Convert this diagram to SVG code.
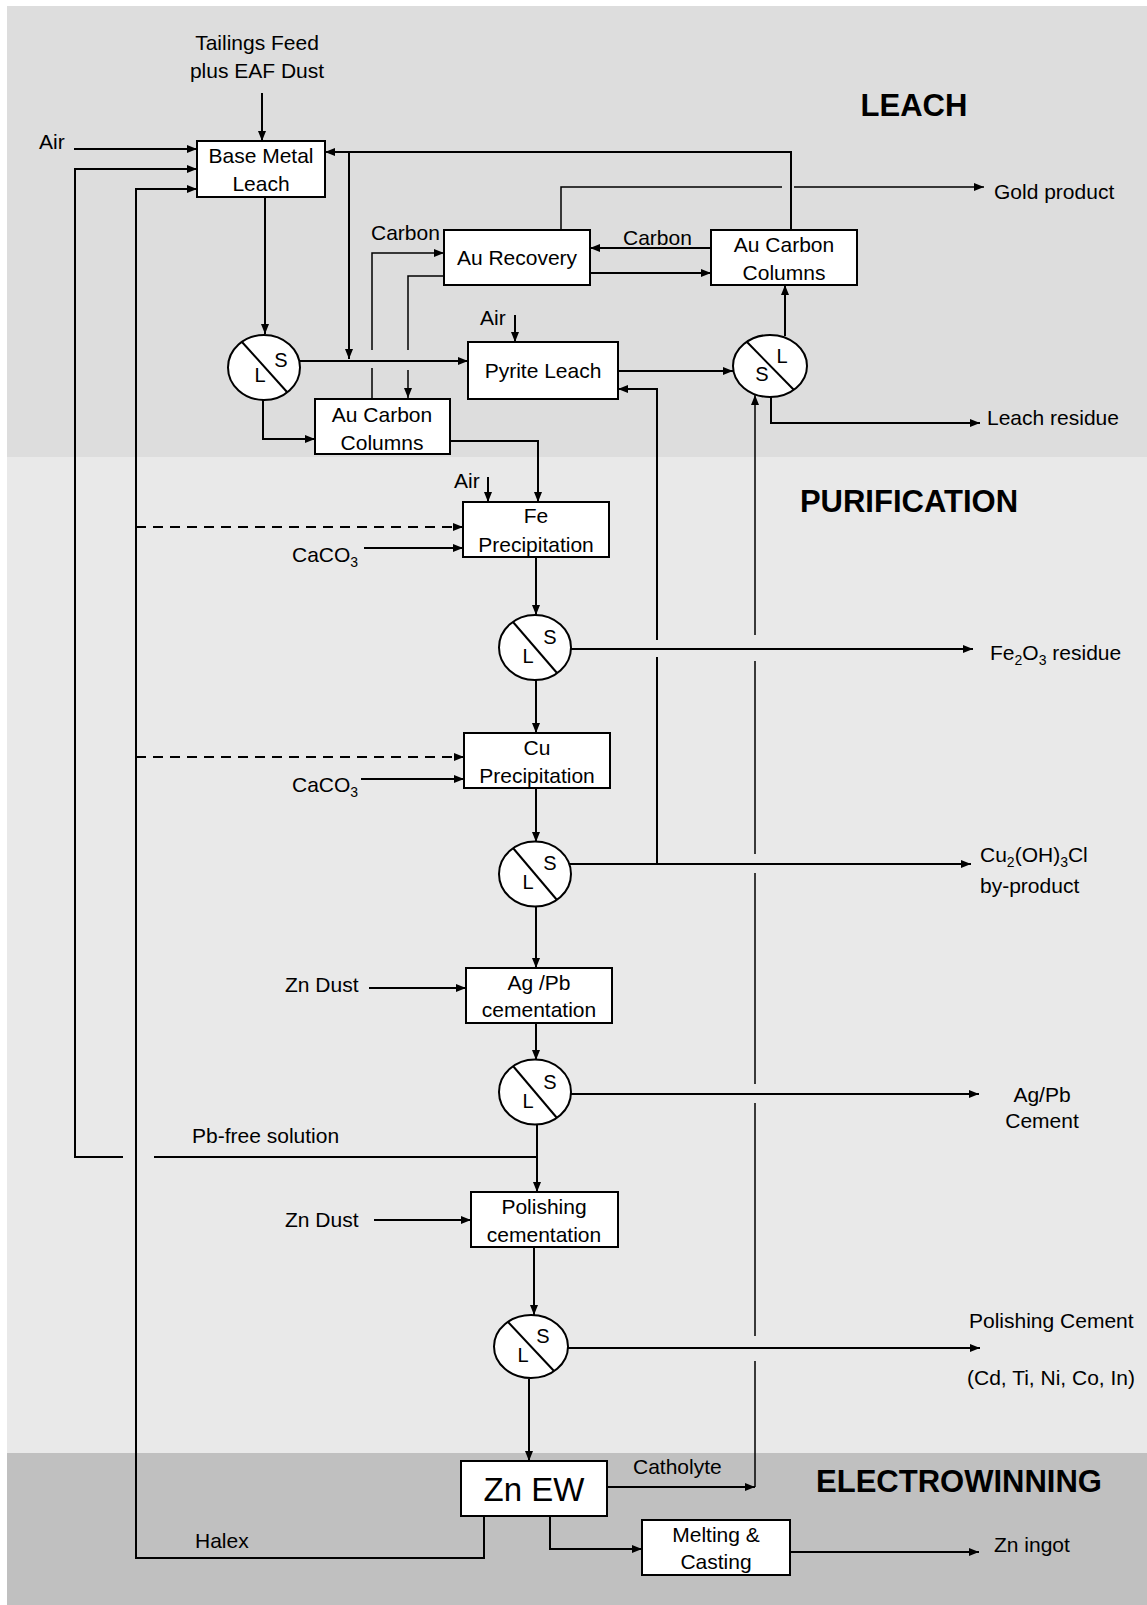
<svg xmlns="http://www.w3.org/2000/svg" width="1147" height="1605" viewBox="0 0 1147 1605">
<defs>
<marker id="ah" markerWidth="10" markerHeight="8" refX="10" refY="4" orient="auto" markerUnits="userSpaceOnUse"><path d="M0,0 L10,4 L0,8 z" fill="#000"/></marker>
<style>
.t{font-family:"Liberation Sans",Arial,sans-serif;font-size:21px;fill:#000}
.m{text-anchor:middle}
.big{font-size:33px}
.sub{font-size:14px}
.h{font-family:"Liberation Sans",Arial,sans-serif;font-size:31px;font-weight:bold;text-anchor:middle;fill:#000}
.sl{font-family:"Liberation Sans",Arial,sans-serif;font-size:20px;text-anchor:middle;fill:#000}
.box{fill:#fff;stroke:#000;stroke-width:2}
.sep{fill:#fff;stroke:#000;stroke-width:2}
.dg{stroke:#000;stroke-width:2}
.c{fill:none;stroke:#000;stroke-width:2}
.a{marker-end:url(#ah)}
.thin{stroke-width:1.5}
.d{stroke-dasharray:10 7}
</style>
</defs>
<rect x="0" y="0" width="1147" height="1605" fill="#fff"/>
<g id="bands">
<rect x="7" y="6" width="1140" height="451" fill="#dddddd"/>
<rect x="7" y="457" width="1140" height="996" fill="#e9e9e9"/>
<rect x="7" y="1453" width="1140" height="152" fill="#c0c0c0"/>
<text class="h" x="914" y="116">LEACH</text>
<text class="h" x="909" y="512">PURIFICATION</text>
<text class="h" x="959" y="1492">ELECTROWINNING</text>
</g>
<g id="connectors">
<path class="c a" d="M262,93 V141"/>
<path class="c a" d="M74,149 H197"/>
<path class="c a" d="M537,1157 H154 M123,1157 H75 V169 H197"/>
<path class="c a" d="M484,1516 V1558 H136 V189 H197"/>
<path class="c a" d="M791,230 V152 H325"/>
<path class="c a" d="M349,152 V359"/>
<path class="c a" d="M265,197 V334"/>
<path class="c a" d="M300,361 H468"/>
<path class="c a" d="M263,400 V439 H315"/>
<path class="c thin a" d="M372,399 V368 M372,350 V253 H444"/>
<path class="c thin a" d="M444,276 H408 V350 M408,370 V398"/>
<path class="c thin a" d="M561,230 V187 H782 M794,187 H984"/>
<path class="c a" d="M711,248 H590"/>
<path class="c a" d="M590,273 H711"/>
<path class="c a" d="M515,315 V342"/>
<path class="c a" d="M618,371 H733"/>
<path class="c a" d="M785,336 V285"/>
<path class="c a" d="M771,397 V423 H980"/>
<path class="c a" d="M657,864 V657 M657,640 V389 H618"/>
<path class="c a" d="M607,1487 H755"/>
<path class="c thin a" d="M755,1487 V1361 M755,1336 V1103 M755,1084 V873 M755,854 V661 M755,635 V395"/>
<path class="c a" d="M450,441 H538 V502"/>
<path class="c a" d="M488,477 V502"/>
<path class="c d a" d="M136,527 H463"/>
<path class="c a" d="M364,548 H463"/>
<path class="c a" d="M536,557 V615"/>
<path class="c a" d="M571,649 H973"/>
<path class="c a" d="M536,680 V733"/>
<path class="c d a" d="M136,757 H464"/>
<path class="c a" d="M361,779 H464"/>
<path class="c a" d="M536,788 V842"/>
<path class="c a" d="M569,864 H971"/>
<path class="c a" d="M536,906 V968"/>
<path class="c a" d="M369,988 H466"/>
<path class="c a" d="M536,1023 V1060"/>
<path class="c a" d="M571,1094 H979"/>
<path class="c a" d="M537,1124 V1192"/>
<path class="c a" d="M374,1220 H471"/>
<path class="c a" d="M534,1247 V1315"/>
<path class="c a" d="M568,1348 H980"/>
<path class="c a" d="M529,1379 V1461"/>
<path class="c a" d="M550,1516 V1549 H642"/>
<path class="c a" d="M790,1552 H979"/>
</g>
<g id="labels">
<text class="t m" x="257" y="50">Tailings Feed</text>
<text class="t m" x="257" y="78">plus EAF Dust</text>
<text class="t" x="39" y="149">Air</text>
<text class="t" x="371" y="240">Carbon</text>
<text class="t" x="623" y="245">Carbon</text>
<text class="t" x="994" y="199">Gold product</text>
<text class="t" x="480" y="325">Air</text>
<text class="t" x="987" y="425">Leach residue</text>
<text class="t" x="454" y="488">Air</text>
<text class="t" x="292" y="562">CaCO<tspan class="sub" dy="5">3</tspan></text>
<text class="t" x="990" y="660">Fe<tspan class="sub" dy="5">2</tspan><tspan dy="-5">O</tspan><tspan class="sub" dy="5">3</tspan><tspan dy="-5"> residue</tspan></text>
<text class="t" x="292" y="792">CaCO<tspan class="sub" dy="5">3</tspan></text>
<text class="t" x="980" y="862">Cu<tspan class="sub" dy="5">2</tspan><tspan dy="-5">(OH)</tspan><tspan class="sub" dy="5">3</tspan><tspan dy="-5">Cl</tspan></text>
<text class="t" x="980" y="893">by-product</text>
<text class="t" x="285" y="992">Zn Dust</text>
<text class="t m" x="1042" y="1102">Ag/Pb</text>
<text class="t m" x="1042" y="1128">Cement</text>
<text class="t" x="192" y="1143">Pb-free solution</text>
<text class="t" x="285" y="1227">Zn Dust</text>
<text class="t" x="969" y="1328">Polishing Cement</text>
<text class="t" x="967" y="1385">(Cd, Ti, Ni, Co, In)</text>
<text class="t" x="633" y="1474">Catholyte</text>
<text class="t" x="195" y="1548">Halex</text>
<text class="t" x="994" y="1552">Zn ingot</text>
</g>
<g id="base-metal-leach"><rect class="box" x="197" y="141" width="128" height="56"/><text class="t m" x="261" y="163">Base Metal</text><text class="t m" x="261" y="191">Leach</text></g>
<g id="au-recovery"><rect class="box" x="444" y="230" width="146" height="55"/><text class="t m" x="517" y="265">Au Recovery</text></g>
<g id="au-carbon-columns-right"><rect class="box" x="711" y="230" width="146" height="55"/><text class="t m" x="784" y="252">Au Carbon</text><text class="t m" x="784" y="280">Columns</text></g>
<g id="pyrite-leach"><rect class="box" x="468" y="342" width="150" height="57"/><text class="t m" x="543" y="378">Pyrite Leach</text></g>
<g id="au-carbon-columns-left"><rect class="box" x="315" y="399" width="135" height="55"/><text class="t m" x="382" y="422">Au Carbon</text><text class="t m" x="382" y="450">Columns</text></g>
<g id="fe-precipitation"><rect class="box" x="463" y="502" width="146" height="55"/><text class="t m" x="536" y="523">Fe</text><text class="t m" x="536" y="552">Precipitation</text></g>
<g id="cu-precipitation"><rect class="box" x="464" y="733" width="146" height="55"/><text class="t m" x="537" y="755">Cu</text><text class="t m" x="537" y="783">Precipitation</text></g>
<g id="agpb-cementation"><rect class="box" x="466" y="968" width="146" height="55"/><text class="t m" x="539" y="990">Ag /Pb</text><text class="t m" x="539" y="1017">cementation</text></g>
<g id="polishing-cementation"><rect class="box" x="471" y="1192" width="147" height="55"/><text class="t m" x="544" y="1214">Polishing</text><text class="t m" x="544" y="1242">cementation</text></g>
<g id="zn-ew"><rect class="box" x="461" y="1461" width="146" height="55"/><text class="t m big" x="534" y="1501">Zn EW</text></g>
<g id="melting-casting"><rect class="box" x="642" y="1520" width="148" height="55"/><text class="t m" x="716" y="1542">Melting &amp;</text><text class="t m" x="716" y="1569">Casting</text></g>
<g id="sep1"><ellipse class="sep" cx="264" cy="367.5" rx="36" ry="32.5"/><line class="dg" x1="242" y1="342" x2="287" y2="392"/><text class="sl" x="281" y="367">S</text><text class="sl" x="260" y="382">L</text></g>
<g id="sep2"><ellipse class="sep" cx="770" cy="366" rx="37" ry="31"/><line class="dg" x1="747" y1="342" x2="794" y2="390"/><text class="sl" x="782" y="363">L</text><text class="sl" x="762" y="381">S</text></g>
<g id="sep3"><ellipse class="sep" cx="535" cy="647.5" rx="36" ry="32.5"/><line class="dg" x1="513" y1="622" x2="557" y2="673"/><text class="sl" x="550" y="644">S</text><text class="sl" x="528" y="663">L</text></g>
<g id="sep4"><ellipse class="sep" cx="535" cy="874" rx="36" ry="32.5"/><line class="dg" x1="513" y1="848" x2="557" y2="900"/><text class="sl" x="550" y="870">S</text><text class="sl" x="528" y="889">L</text></g>
<g id="sep5"><ellipse class="sep" cx="535" cy="1092" rx="36" ry="32.5"/><line class="dg" x1="513" y1="1066" x2="557" y2="1118"/><text class="sl" x="550" y="1089">S</text><text class="sl" x="528" y="1108">L</text></g>
<g id="sep6"><ellipse class="sep" cx="531" cy="1346.5" rx="37" ry="31.5"/><line class="dg" x1="508" y1="1322" x2="554" y2="1371"/><text class="sl" x="543" y="1343">S</text><text class="sl" x="523" y="1362">L</text></g>
</svg>
